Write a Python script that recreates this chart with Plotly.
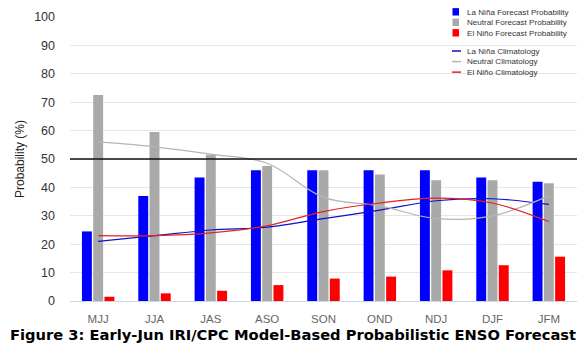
import plotly.graph_objects as go

seasons = ["MJJ", "JJA", "JAS", "ASO", "SON", "OND", "NDJ", "DJF", "JFM"]
lanina_fc = [24.5, 37, 43.5, 46, 46, 46, 46, 43.5, 42]
neutral_fc = [72.5, 59.5, 51.5, 47.5, 46, 44.5, 42.5, 42.5, 41.5]
elnino_fc = [1.5, 2.7, 3.6, 5.6, 7.9, 8.6, 10.8, 12.6, 15.6]
lanina_clim = [21, 23, 25, 26, 29, 32, 35.3, 36, 34]
neutral_clim = [56, 54.3, 51.7, 48.5, 36.5, 33.5, 29, 30, 37]
elnino_clim = [23, 23, 24, 26.5, 31.5, 34.5, 36.2, 34.5, 28]
yticks = [0, 10, 20, 30, 40, 50, 60, 70, 80, 90, 100]
threshold = 50

names_fc = ["La Niña Forecast Probability", "Neutral Forecast Probability", "El Niño Forecast Probability"]
names_cl = ["La Niña Climatology", "Neutral Climatology", "El Niño Climatology"]
bar_colors = ["#0000ff", "#a9a9a9", "#ff0000"]
line_colors = ["#1010c8", "#b4b4b4", "#e22222"]

W, H = 587, 348
ML, MR, MT, MB = 70, 10, 13, 47

fig = go.Figure()
for name, vals, col in zip(names_fc, [lanina_fc, neutral_fc, elnino_fc], bar_colors):
    fig.add_trace(go.Bar(x=seasons, y=vals, name=name, marker_color=col, marker_line_width=0))
for name, vals, col in zip(names_cl, [lanina_clim, neutral_clim, elnino_clim], line_colors):
    fig.add_trace(go.Scatter(x=seasons, y=vals, name=name, mode="lines",
                             line=dict(color=col, width=1.2, shape="spline", smoothing=1)))

fig.add_shape(type="line", xref="paper", yref="y", x0=0, x1=1, y0=threshold, y1=threshold,
              line=dict(color="#111111", width=1.5))

# manual compact legend
ph = H - MT - MB
pw = W - ML - MR
def px2paper(x, y):
    return (x - ML) / pw, (H - MB - y) / ph

rows = [8, 18.7, 29.3, 47.5, 58.2, 68.9]
entries = list(zip(names_fc, bar_colors, ["bar"] * 3)) + list(zip(names_cl, line_colors, ["line"] * 3))
for (name, col, kind), ry in zip(entries, rows):
    tx, ty = px2paper(465, ry)
    fig.add_annotation(x=tx, y=ty, xref="paper", yref="paper", text=name, showarrow=False,
                       xanchor="left", yanchor="middle", font=dict(size=8.1, color="#333333",
                       family="Liberation Sans, Arial, sans-serif"))
    if kind == "bar":
        x0, y0 = px2paper(452.5, ry - 4)
        x1, y1 = px2paper(459, ry + 3.5)
        fig.add_shape(type="rect", xref="paper", yref="paper", x0=x0, x1=x1, y0=y0, y1=y1,
                      fillcolor=col, line_width=0)
    else:
        x0, y0 = px2paper(452, ry)
        x1, _ = px2paper(461, ry)
        fig.add_shape(type="line", xref="paper", yref="paper", x0=x0, x1=x1, y0=y0, y1=y0,
                      line=dict(color=col, width=1.5))

fig.add_annotation(x=px2paper(293, 0)[0], xref="paper", y=px2paper(0, 335)[1], yref="paper",
                   text="<b>Figure 3: Early-Jun IRI/CPC Model-Based Probabilistic ENSO Forecast</b>",
                   showarrow=False, xanchor="center", yanchor="middle",
                   font=dict(size=14.7, color="#000000", family="DejaVu Sans, sans-serif"))

fig.update_layout(
    width=W, height=H, margin=dict(l=ML, r=MR, t=MT, b=MB),
    paper_bgcolor="white", plot_bgcolor="white",
    barmode="group", bargap=0.4, bargroupgap=0.12,
    showlegend=False,
    font=dict(family="Liberation Sans, Arial, sans-serif"),
)
fig.update_xaxes(showgrid=False, showline=True, linecolor="#ccd6eb", linewidth=1,
                 tickfont=dict(size=11.5, color="#666666"), ticks="", ticklabelstandoff=7)
fig.update_yaxes(range=[0, 100], tickvals=yticks, showgrid=True, gridcolor="#e6e6e6",
                 zeroline=False, tickfont=dict(size=12.5, color="#333333"), ticks="",
                 ticklabelstandoff=14,
                 title=dict(text="Probability (%)", font=dict(size=12, color="#222222"), standoff=6))

fig.write_html("out.html")
